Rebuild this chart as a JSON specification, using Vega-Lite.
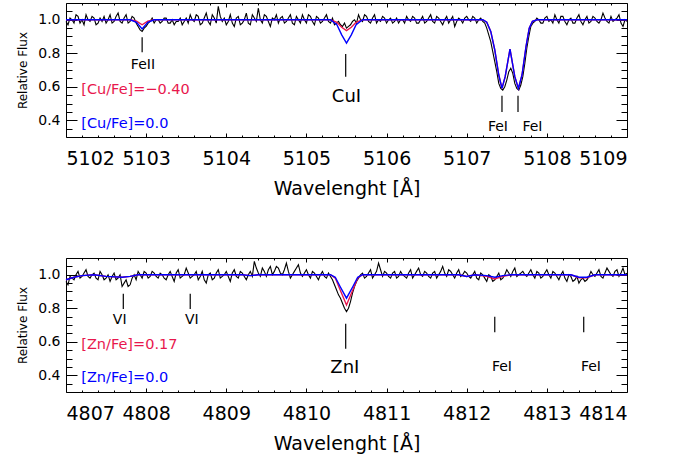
{
  "$schema": "https://vega.github.io/schema/vega-lite/v6.json",
  "background": "white",
  "padding": {"left": 16, "top": 2, "right": 5, "bottom": 5},
  "spacing": 58,
  "config": {
    "view": {"stroke": "black", "strokeWidth": 1},
    "font": "DejaVu Sans",
    "axis": {"domain": false, "grid": false, "tickColor": "black", "tickWidth": 1, "labelColor": "black", "titleColor": "black", "labelFont": "DejaVu Sans", "titleFont": "DejaVu Sans", "titleFontWeight": "normal"}
  },
  "datasets": {
    "top_obs": [
      {"w":5102.00,"f":0.99},{"w":5102.05,"f":1.01},{"w":5102.10,"f":0.98},{"w":5102.15,"f":1.02},{"w":5102.20,"f":1.00},{"w":5102.25,"f":1.03},{"w":5102.30,"f":0.99},{"w":5102.35,"f":1.01},{"w":5102.40,"f":0.98},{"w":5102.45,"f":0.99},
      {"w":5102.50,"f":0.98},{"w":5102.55,"f":1.03},{"w":5102.60,"f":0.99},{"w":5102.65,"f":1.04},{"w":5102.70,"f":0.98},{"w":5102.75,"f":1.03},{"w":5102.80,"f":0.99},{"w":5102.85,"f":1.01},{"w":5102.90,"f":0.96},{"w":5102.95,"f":0.93},
      {"w":5103.00,"f":0.96},{"w":5103.05,"f":0.99},{"w":5103.10,"f":0.98},{"w":5103.15,"f":1.00},{"w":5103.20,"f":0.99},{"w":5103.25,"f":1.01},{"w":5103.30,"f":0.98},{"w":5103.35,"f":0.97},{"w":5103.40,"f":0.99},{"w":5103.45,"f":0.97},
      {"w":5103.50,"f":1.01},{"w":5103.55,"f":1.03},{"w":5103.60,"f":0.99},{"w":5103.65,"f":1.02},{"w":5103.70,"f":0.98},{"w":5103.75,"f":1.04},{"w":5103.80,"f":0.97},{"w":5103.85,"f":1.01},{"w":5103.90,"f":1.08},{"w":5103.95,"f":0.99},
      {"w":5104.00,"f":0.97},{"w":5104.05,"f":1.03},{"w":5104.10,"f":0.96},{"w":5104.15,"f":1.02},{"w":5104.20,"f":0.98},{"w":5104.25,"f":1.04},{"w":5104.30,"f":0.97},{"w":5104.35,"f":1.01},{"w":5104.40,"f":1.07},{"w":5104.45,"f":0.98},
      {"w":5104.50,"f":1.02},{"w":5104.55,"f":0.96},{"w":5104.60,"f":1.00},{"w":5104.65,"f":0.98},{"w":5104.70,"f":1.02},{"w":5104.75,"f":0.99},{"w":5104.80,"f":1.03},{"w":5104.85,"f":0.97},{"w":5104.90,"f":1.00},{"w":5104.95,"f":1.03},
      {"w":5105.00,"f":0.98},{"w":5105.05,"f":1.02},{"w":5105.10,"f":0.97},{"w":5105.15,"f":1.01},{"w":5105.20,"f":0.99},{"w":5105.25,"f":1.03},{"w":5105.30,"f":0.98},{"w":5105.35,"f":0.97},{"w":5105.40,"f":0.99},{"w":5105.45,"f":0.96},
      {"w":5105.50,"f":0.95},{"w":5105.55,"f":0.97},{"w":5105.60,"f":1.00},{"w":5105.65,"f":1.03},{"w":5105.70,"f":0.99},{"w":5105.75,"f":1.02},{"w":5105.80,"f":0.98},{"w":5105.85,"f":1.03},{"w":5105.90,"f":1.00},{"w":5105.95,"f":1.02},
      {"w":5106.00,"f":0.98},{"w":5106.05,"f":1.01},{"w":5106.10,"f":0.99},{"w":5106.15,"f":0.98},{"w":5106.20,"f":1.00},{"w":5106.25,"f":1.02},{"w":5106.30,"f":0.99},{"w":5106.35,"f":1.01},{"w":5106.40,"f":0.98},{"w":5106.45,"f":1.02},
      {"w":5106.50,"f":0.99},{"w":5106.55,"f":1.03},{"w":5106.60,"f":0.98},{"w":5106.65,"f":1.01},{"w":5106.70,"f":0.97},{"w":5106.75,"f":1.02},{"w":5106.80,"f":1.00},{"w":5106.85,"f":0.96},{"w":5106.90,"f":1.01},{"w":5106.95,"f":0.98},
      {"w":5107.00,"f":1.02},{"w":5107.05,"f":0.99},{"w":5107.10,"f":1.01},{"w":5107.15,"f":1.00},{"w":5107.20,"f":0.99},{"w":5107.25,"f":0.95},{"w":5107.30,"f":0.87},{"w":5107.35,"f":0.75},{"w":5107.40,"f":0.62},{"w":5107.45,"f":0.58},
      {"w":5107.50,"f":0.64},{"w":5107.55,"f":0.71},{"w":5107.60,"f":0.62},{"w":5107.65,"f":0.58},{"w":5107.70,"f":0.66},{"w":5107.75,"f":0.83},{"w":5107.80,"f":0.96},{"w":5107.85,"f":0.99},{"w":5107.90,"f":1.00},{"w":5107.95,"f":0.98},
      {"w":5108.00,"f":1.02},{"w":5108.05,"f":1.00},{"w":5108.10,"f":1.03},{"w":5108.15,"f":0.98},{"w":5108.20,"f":1.02},{"w":5108.25,"f":0.97},{"w":5108.30,"f":1.01},{"w":5108.35,"f":0.98},{"w":5108.40,"f":1.03},{"w":5108.45,"f":0.97},
      {"w":5108.50,"f":1.02},{"w":5108.55,"f":0.99},{"w":5108.60,"f":1.01},{"w":5108.65,"f":0.98},{"w":5108.70,"f":1.04},{"w":5108.75,"f":0.99},{"w":5108.80,"f":1.02},{"w":5108.85,"f":1.00},{"w":5108.90,"f":1.03},{"w":5108.95,"f":0.96},
      {"w":5109.00,"f":0.99},
      {"w":5102.025,"f":0.97},{"w":5102.075,"f":1.00},{"w":5102.125,"f":1.03},{"w":5102.175,"f":0.98},{"w":5102.225,"f":0.97},{"w":5102.275,"f":1.00},{"w":5102.325,"f":1.02},{"w":5102.375,"f":0.97},{"w":5102.425,"f":1.01},{"w":5102.475,"f":1.02},
      {"w":5102.525,"f":1.00},{"w":5102.575,"f":0.98},{"w":5102.625,"f":1.02},{"w":5102.675,"f":0.99},{"w":5102.725,"f":1.01},{"w":5102.775,"f":0.98},{"w":5102.825,"f":1.02},{"w":5102.875,"f":0.98},{"w":5102.925,"f":0.94},{"w":5102.975,"f":0.95},
      {"w":5103.025,"f":0.98},{"w":5103.075,"f":1.01},{"w":5103.125,"f":1.00},{"w":5103.175,"f":0.98},{"w":5103.225,"f":1.01},{"w":5103.275,"f":0.98},{"w":5103.325,"f":1.00},{"w":5103.375,"f":0.99},{"w":5103.425,"f":1.01},{"w":5103.475,"f":0.99},
      {"w":5103.525,"f":0.98},{"w":5103.575,"f":1.00},{"w":5103.625,"f":1.03},{"w":5103.675,"f":0.97},{"w":5103.725,"f":1.01},{"w":5103.775,"f":0.99},{"w":5103.825,"f":1.03},{"w":5103.875,"f":0.98},{"w":5103.925,"f":1.02},{"w":5103.975,"f":1.01},
      {"w":5104.025,"f":0.99},{"w":5104.075,"f":0.98},{"w":5104.125,"f":1.01},{"w":5104.175,"f":0.97},{"w":5104.225,"f":1.00},{"w":5104.275,"f":0.98},{"w":5104.325,"f":1.03},{"w":5104.375,"f":0.99},{"w":5104.425,"f":1.00},{"w":5104.475,"f":1.03},
      {"w":5104.525,"f":0.99},{"w":5104.575,"f":1.01},{"w":5104.625,"f":1.03},{"w":5104.675,"f":1.01},{"w":5104.725,"f":0.98},{"w":5104.775,"f":1.01},{"w":5104.825,"f":0.98},{"w":5104.875,"f":1.02},{"w":5104.925,"f":0.98},{"w":5104.975,"f":1.00},
      {"w":5105.025,"f":1.03},{"w":5105.075,"f":0.99},{"w":5105.125,"f":1.02},{"w":5105.175,"f":0.98},{"w":5105.225,"f":1.01},{"w":5105.275,"f":0.99},{"w":5105.325,"f":1.01},{"w":5105.375,"f":0.98},{"w":5105.425,"f":0.97},{"w":5105.475,"f":0.98},
      {"w":5105.525,"f":0.96},{"w":5105.575,"f":0.99},{"w":5105.625,"f":0.98},{"w":5105.675,"f":1.00},{"w":5105.725,"f":1.03},{"w":5105.775,"f":0.99},{"w":5105.825,"f":1.01},{"w":5105.875,"f":0.98},{"w":5105.925,"f":0.99},{"w":5105.975,"f":1.01},
      {"w":5106.025,"f":1.00},{"w":5106.075,"f":0.98},{"w":5106.125,"f":1.01},{"w":5106.175,"f":1.00},{"w":5106.225,"f":0.98},{"w":5106.275,"f":1.00},{"w":5106.325,"f":1.02},{"w":5106.375,"f":0.98},{"w":5106.425,"f":1.00},{"w":5106.475,"f":0.98},
      {"w":5106.525,"f":1.01},{"w":5106.575,"f":0.99},{"w":5106.625,"f":1.02},{"w":5106.675,"f":0.99},{"w":5106.725,"f":1.00},{"w":5106.775,"f":0.98},{"w":5106.825,"f":1.02},{"w":5106.875,"f":0.99},{"w":5106.925,"f":1.00},{"w":5106.975,"f":1.01},
      {"w":5107.025,"f":1.00},{"w":5107.075,"f":1.02},{"w":5107.125,"f":0.98},{"w":5107.175,"f":1.01},{"w":5107.225,"f":0.98},{"w":5107.275,"f":0.91},{"w":5107.325,"f":0.81},{"w":5107.375,"f":0.69},{"w":5107.425,"f":0.59},{"w":5107.475,"f":0.60},
      {"w":5107.525,"f":0.69},{"w":5107.575,"f":0.68},{"w":5107.625,"f":0.59},{"w":5107.675,"f":0.61},{"w":5107.725,"f":0.74},{"w":5107.775,"f":0.90},{"w":5107.825,"f":0.98},{"w":5107.875,"f":1.01},{"w":5107.925,"f":0.98},{"w":5107.975,"f":1.01},
      {"w":5108.025,"f":0.99},{"w":5108.075,"f":0.98},{"w":5108.125,"f":1.00},{"w":5108.175,"f":1.02},{"w":5108.225,"f":0.99},{"w":5108.275,"f":1.00},{"w":5108.325,"f":0.98},{"w":5108.375,"f":1.01},{"w":5108.425,"f":0.99},{"w":5108.475,"f":1.00},
      {"w":5108.525,"f":0.98},{"w":5108.575,"f":1.02},{"w":5108.625,"f":0.99},{"w":5108.675,"f":1.00},{"w":5108.725,"f":1.01},{"w":5108.775,"f":0.98},{"w":5108.825,"f":0.99},{"w":5108.875,"f":1.01},{"w":5108.925,"f":0.98},{"w":5108.975,"f":1.00}
    ],
    "top_red": [
      {"w":5102.00,"f":1.0},{"w":5102.80,"f":1.0},{"w":5102.88,"f":0.992},{"w":5102.95,"f":0.97},{"w":5103.02,"f":0.992},{"w":5103.10,"f":1.0},
      {"w":5105.30,"f":1.0},{"w":5105.38,"f":0.985},{"w":5105.44,"f":0.955},{"w":5105.50,"f":0.935},{"w":5105.56,"f":0.955},{"w":5105.62,"f":0.985},{"w":5105.70,"f":1.0},
      {"w":5107.20,"f":1.0},{"w":5107.25,"f":0.985},{"w":5107.30,"f":0.93},{"w":5107.35,"f":0.82},{"w":5107.40,"f":0.67},{"w":5107.44,"f":0.59},{"w":5107.48,"f":0.66},{"w":5107.54,"f":0.825},{"w":5107.60,"f":0.66},{"w":5107.645,"f":0.59},{"w":5107.69,"f":0.67},{"w":5107.74,"f":0.84},{"w":5107.78,"f":0.95},{"w":5107.82,"f":0.99},{"w":5107.88,"f":1.0},
      {"w":5109.00,"f":1.0}
    ],
    "top_blue": [
      {"w":5102.00,"f":1.0},{"w":5102.80,"f":1.0},{"w":5102.88,"f":0.985},{"w":5102.95,"f":0.945},{"w":5103.02,"f":0.985},{"w":5103.10,"f":1.0},
      {"w":5105.30,"f":1.0},{"w":5105.38,"f":0.97},{"w":5105.44,"f":0.91},{"w":5105.50,"f":0.86},{"w":5105.56,"f":0.91},{"w":5105.62,"f":0.97},{"w":5105.70,"f":1.0},
      {"w":5107.20,"f":1.0},{"w":5107.25,"f":0.985},{"w":5107.30,"f":0.93},{"w":5107.35,"f":0.82},{"w":5107.40,"f":0.67},{"w":5107.44,"f":0.59},{"w":5107.48,"f":0.66},{"w":5107.54,"f":0.825},{"w":5107.60,"f":0.66},{"w":5107.645,"f":0.59},{"w":5107.69,"f":0.67},{"w":5107.74,"f":0.84},{"w":5107.78,"f":0.95},{"w":5107.82,"f":0.99},{"w":5107.88,"f":1.0},
      {"w":5109.00,"f":1.0}
    ],
    "top_marks": [
      {"w":5102.95,"y1":0.806,"y2":0.896},{"w":5105.49,"y1":0.659,"y2":0.796},{"w":5107.44,"y1":0.45,"y2":0.546},{"w":5107.64,"y1":0.45,"y2":0.546}
    ],
    "top_small": [
      {"w":5102.96,"f":0.73,"t":"FeII"},{"w":5107.39,"f":0.357,"t":"FeI"},{"w":5107.82,"f":0.357,"t":"FeI"}
    ],
    "top_big": [{"w":5105.50,"f":0.536,"t":"CuI"}],
    "top_leg_red": [{"w":5102.19,"f":0.58,"t":"[Cu/Fe]=\u22120.40"}],
    "top_leg_blue": [{"w":5102.19,"f":0.379,"t":"[Cu/Fe]=0.0"}],
    "bot_obs": [
      {"w":4807.00,"f":0.96},{"w":4807.05,"f":0.99},{"w":4807.10,"f":0.97},{"w":4807.15,"f":1.02},{"w":4807.20,"f":0.99},{"w":4807.25,"f":1.03},{"w":4807.30,"f":0.98},{"w":4807.35,"f":1.01},{"w":4807.40,"f":0.97},{"w":4807.45,"f":1.00},
      {"w":4807.50,"f":0.98},{"w":4807.55,"f":0.96},{"w":4807.60,"f":1.01},{"w":4807.65,"f":0.98},{"w":4807.70,"f":0.93},{"w":4807.75,"f":0.97},{"w":4807.80,"f":0.94},{"w":4807.85,"f":1.00},{"w":4807.90,"f":1.02},{"w":4807.95,"f":0.98},
      {"w":4808.00,"f":1.01},{"w":4808.05,"f":0.99},{"w":4808.10,"f":1.01},{"w":4808.15,"f":0.98},{"w":4808.20,"f":1.00},{"w":4808.25,"f":0.97},{"w":4808.30,"f":1.02},{"w":4808.35,"f":0.96},{"w":4808.40,"f":1.03},{"w":4808.45,"f":0.99},
      {"w":4808.50,"f":1.04},{"w":4808.55,"f":0.98},{"w":4808.60,"f":1.00},{"w":4808.65,"f":0.97},{"w":4808.70,"f":1.02},{"w":4808.75,"f":0.95},{"w":4808.80,"f":1.01},{"w":4808.85,"f":0.98},{"w":4808.90,"f":1.03},{"w":4808.95,"f":0.99},
      {"w":4809.00,"f":1.02},{"w":4809.05,"f":0.96},{"w":4809.10,"f":1.03},{"w":4809.15,"f":0.98},{"w":4809.20,"f":1.01},{"w":4809.25,"f":0.97},{"w":4809.30,"f":1.02},{"w":4809.35,"f":1.08},{"w":4809.40,"f":1.01},{"w":4809.45,"f":1.04},
      {"w":4809.50,"f":0.99},{"w":4809.55,"f":1.05},{"w":4809.60,"f":1.02},{"w":4809.65,"f":1.04},{"w":4809.70,"f":1.00},{"w":4809.75,"f":1.07},{"w":4809.80,"f":0.98},{"w":4809.85,"f":1.02},{"w":4809.90,"f":1.06},{"w":4809.95,"f":0.99},
      {"w":4810.00,"f":1.03},{"w":4810.05,"f":0.98},{"w":4810.10,"f":1.01},{"w":4810.15,"f":0.97},{"w":4810.20,"f":1.02},{"w":4810.25,"f":0.98},{"w":4810.30,"f":0.99},{"w":4810.35,"f":0.94},{"w":4810.40,"f":0.88},{"w":4810.45,"f":0.83},
      {"w":4810.50,"f":0.78},{"w":4810.55,"f":0.84},{"w":4810.60,"f":0.93},{"w":4810.65,"f":0.98},{"w":4810.70,"f":1.01},{"w":4810.75,"f":0.99},{"w":4810.80,"f":1.03},{"w":4810.85,"f":1.00},{"w":4810.90,"f":1.07},{"w":4810.95,"f":0.99},
      {"w":4811.00,"f":1.01},{"w":4811.05,"f":0.98},{"w":4811.10,"f":1.02},{"w":4811.15,"f":0.99},{"w":4811.20,"f":1.00},{"w":4811.25,"f":0.98},{"w":4811.30,"f":1.03},{"w":4811.35,"f":1.00},{"w":4811.40,"f":1.04},{"w":4811.45,"f":0.99},
      {"w":4811.50,"f":1.01},{"w":4811.55,"f":0.98},{"w":4811.60,"f":1.02},{"w":4811.65,"f":1.00},{"w":4811.70,"f":1.05},{"w":4811.75,"f":0.99},{"w":4811.80,"f":1.02},{"w":4811.85,"f":0.98},{"w":4811.90,"f":1.03},{"w":4811.95,"f":1.00},
      {"w":4812.00,"f":1.01},{"w":4812.05,"f":0.98},{"w":4812.10,"f":1.02},{"w":4812.15,"f":0.97},{"w":4812.20,"f":1.00},{"w":4812.25,"f":0.96},{"w":4812.30,"f":0.99},{"w":4812.35,"f":0.97},{"w":4812.40,"f":1.01},{"w":4812.45,"f":0.98},
      {"w":4812.50,"f":1.03},{"w":4812.55,"f":0.99},{"w":4812.60,"f":1.04},{"w":4812.65,"f":1.00},{"w":4812.70,"f":1.02},{"w":4812.75,"f":0.99},{"w":4812.80,"f":1.03},{"w":4812.85,"f":0.98},{"w":4812.90,"f":1.01},{"w":4812.95,"f":0.99},
      {"w":4813.00,"f":1.03},{"w":4813.05,"f":0.98},{"w":4813.10,"f":1.01},{"w":4813.15,"f":0.97},{"w":4813.20,"f":1.02},{"w":4813.25,"f":0.96},{"w":4813.30,"f":0.99},{"w":4813.35,"f":0.97},{"w":4813.40,"f":0.95},{"w":4813.45,"f":0.98},
      {"w":4813.50,"f":0.97},{"w":4813.55,"f":1.02},{"w":4813.60,"f":0.99},{"w":4813.65,"f":1.03},{"w":4813.70,"f":0.98},{"w":4813.75,"f":1.04},{"w":4813.80,"f":1.00},{"w":4813.85,"f":1.02},{"w":4813.90,"f":0.99},{"w":4813.95,"f":1.04},
      {"w":4814.00,"f":1.01},
      {"w":4807.025,"f":0.94},{"w":4807.075,"f":0.98},{"w":4807.125,"f":1.00},{"w":4807.175,"f":0.98},{"w":4807.225,"f":1.01},{"w":4807.275,"f":0.99},{"w":4807.325,"f":1.00},{"w":4807.375,"f":0.98},{"w":4807.425,"f":1.02},{"w":4807.475,"f":0.97},
      {"w":4807.525,"f":1.00},{"w":4807.575,"f":0.99},{"w":4807.625,"f":0.97},{"w":4807.675,"f":1.00},{"w":4807.725,"f":0.95},{"w":4807.775,"f":0.93},{"w":4807.825,"f":0.98},{"w":4807.875,"f":0.97},{"w":4807.925,"f":1.00},{"w":4807.975,"f":1.02},
      {"w":4808.025,"f":0.98},{"w":4808.075,"f":1.02},{"w":4808.125,"f":0.99},{"w":4808.175,"f":1.01},{"w":4808.225,"f":0.98},{"w":4808.275,"f":1.00},{"w":4808.325,"f":0.99},{"w":4808.375,"f":1.01},{"w":4808.425,"f":0.98},{"w":4808.475,"f":1.00},
      {"w":4808.525,"f":1.01},{"w":4808.575,"f":0.99},{"w":4808.625,"f":1.02},{"w":4808.675,"f":0.99},{"w":4808.725,"f":0.97},{"w":4808.775,"f":1.00},{"w":4808.825,"f":0.97},{"w":4808.875,"f":1.01},{"w":4808.925,"f":0.98},{"w":4808.975,"f":1.00},
      {"w":4809.025,"f":0.99},{"w":4809.075,"f":1.01},{"w":4809.125,"f":0.99},{"w":4809.175,"f":1.02},{"w":4809.225,"f":0.99},{"w":4809.275,"f":1.00},{"w":4809.325,"f":0.99},{"w":4809.375,"f":1.04},{"w":4809.425,"f":0.99},{"w":4809.475,"f":1.02},
      {"w":4809.525,"f":1.03},{"w":4809.575,"f":1.00},{"w":4809.625,"f":1.05},{"w":4809.675,"f":1.01},{"w":4809.725,"f":1.03},{"w":4809.775,"f":1.02},{"w":4809.825,"f":1.00},{"w":4809.875,"f":1.04},{"w":4809.925,"f":1.01},{"w":4809.975,"f":1.01},
      {"w":4810.025,"f":1.00},{"w":4810.075,"f":1.02},{"w":4810.125,"f":0.99},{"w":4810.175,"f":1.00},{"w":4810.225,"f":0.99},{"w":4810.275,"f":1.01},{"w":4810.325,"f":0.97},{"w":4810.375,"f":0.91},{"w":4810.425,"f":0.86},{"w":4810.475,"f":0.80},
      {"w":4810.525,"f":0.80},{"w":4810.575,"f":0.89},{"w":4810.625,"f":0.96},{"w":4810.675,"f":1.00},{"w":4810.725,"f":0.98},{"w":4810.775,"f":1.01},{"w":4810.825,"f":0.98},{"w":4810.875,"f":1.02},{"w":4810.925,"f":1.03},{"w":4810.975,"f":1.02},
      {"w":4811.025,"f":0.99},{"w":4811.075,"f":1.01},{"w":4811.125,"f":0.98},{"w":4811.175,"f":1.02},{"w":4811.225,"f":0.99},{"w":4811.275,"f":1.01},{"w":4811.325,"f":0.98},{"w":4811.375,"f":1.02},{"w":4811.425,"f":1.00},{"w":4811.475,"f":1.02},
      {"w":4811.525,"f":0.99},{"w":4811.575,"f":1.01},{"w":4811.625,"f":0.98},{"w":4811.675,"f":1.02},{"w":4811.725,"f":1.01},{"w":4811.775,"f":1.03},{"w":4811.825,"f":1.00},{"w":4811.875,"f":1.01},{"w":4811.925,"f":0.99},{"w":4811.975,"f":1.02},
      {"w":4812.025,"f":0.99},{"w":4812.075,"f":1.00},{"w":4812.125,"f":0.98},{"w":4812.175,"f":1.01},{"w":4812.225,"f":0.98},{"w":4812.275,"f":1.00},{"w":4812.325,"f":0.96},{"w":4812.375,"f":0.99},{"w":4812.425,"f":0.97},{"w":4812.475,"f":1.00},
      {"w":4812.525,"f":1.01},{"w":4812.575,"f":1.02},{"w":4812.625,"f":0.99},{"w":4812.675,"f":1.01},{"w":4812.725,"f":1.00},{"w":4812.775,"f":1.01},{"w":4812.825,"f":1.00},{"w":4812.875,"f":1.02},{"w":4812.925,"f":0.98},{"w":4812.975,"f":1.01},
      {"w":4813.025,"f":1.00},{"w":4813.075,"f":1.02},{"w":4813.125,"f":0.99},{"w":4813.175,"f":1.00},{"w":4813.225,"f":0.98},{"w":4813.275,"f":1.00},{"w":4813.325,"f":0.96},{"w":4813.375,"f":0.99},{"w":4813.425,"f":0.97},{"w":4813.475,"f":0.96},
      {"w":4813.525,"f":0.99},{"w":4813.575,"f":1.00},{"w":4813.625,"f":1.01},{"w":4813.675,"f":0.99},{"w":4813.725,"f":1.01},{"w":4813.775,"f":1.02},{"w":4813.825,"f":0.99},{"w":4813.875,"f":1.03},{"w":4813.925,"f":1.01},{"w":4813.975,"f":1.00}
    ],
    "bot_red": [
      {"w":4807.00,"f":0.97},{"w":4807.10,"f":0.985},{"w":4807.20,"f":0.995},{"w":4807.35,"f":1.0},{"w":4807.50,"f":0.99},{"w":4807.70,"f":0.985},{"w":4807.80,"f":0.99},{"w":4807.90,"f":1.0},
      {"w":4809.20,"f":1.0},{"w":4809.30,"f":0.995},{"w":4809.40,"f":1.0},
      {"w":4810.30,"f":1.0},{"w":4810.36,"f":0.98},{"w":4810.42,"f":0.91},{"w":4810.50,"f":0.82},{"w":4810.58,"f":0.91},{"w":4810.64,"f":0.98},{"w":4810.70,"f":1.0},
      {"w":4811.90,"f":1.0},{"w":4812.00,"f":0.99},{"w":4812.10,"f":1.0},{"w":4812.25,"f":0.99},{"w":4812.35,"f":0.975},{"w":4812.45,"f":0.99},{"w":4812.55,"f":1.0},
      {"w":4813.30,"f":1.0},{"w":4813.40,"f":0.982},{"w":4813.50,"f":0.982},{"w":4813.60,"f":1.0},{"w":4814.00,"f":1.0}
    ],
    "bot_blue": [
      {"w":4807.00,"f":0.97},{"w":4807.10,"f":0.985},{"w":4807.20,"f":0.995},{"w":4807.35,"f":1.0},{"w":4807.50,"f":0.99},{"w":4807.70,"f":0.985},{"w":4807.80,"f":0.99},{"w":4807.90,"f":1.0},
      {"w":4809.20,"f":1.0},{"w":4809.30,"f":0.995},{"w":4809.40,"f":1.0},
      {"w":4810.30,"f":1.0},{"w":4810.36,"f":0.985},{"w":4810.42,"f":0.93},{"w":4810.50,"f":0.86},{"w":4810.58,"f":0.93},{"w":4810.64,"f":0.985},{"w":4810.70,"f":1.0},
      {"w":4811.90,"f":1.0},{"w":4812.00,"f":0.99},{"w":4812.10,"f":1.0},{"w":4812.25,"f":0.995},{"w":4812.35,"f":0.985},{"w":4812.45,"f":0.995},{"w":4812.55,"f":1.0},
      {"w":4813.30,"f":1.0},{"w":4813.40,"f":0.985},{"w":4813.50,"f":0.985},{"w":4813.60,"f":1.0},{"w":4814.00,"f":1.0}
    ],
    "bot_marks": [
      {"w":4807.715,"y1":0.796,"y2":0.886},{"w":4808.55,"y1":0.796,"y2":0.886},{"w":4810.49,"y1":0.558,"y2":0.707},{"w":4812.35,"y1":0.657,"y2":0.75},{"w":4813.46,"y1":0.657,"y2":0.75}
    ],
    "bot_small": [
      {"w":4807.67,"f":0.732,"t":"VI"},{"w":4808.57,"f":0.732,"t":"VI"},{"w":4812.44,"f":0.448,"t":"FeI"},{"w":4813.55,"f":0.448,"t":"FeI"}
    ],
    "bot_big": [{"w":4810.48,"f":0.442,"t":"ZnI"}],
    "bot_leg_red": [{"w":4807.19,"f":0.582,"t":"[Zn/Fe]=0.17"}],
    "bot_leg_blue": [{"w":4807.19,"f":0.383,"t":"[Zn/Fe]=0.0"}]
  },
  "vconcat": [
    {
      "width": 561,
      "height": 134,
      "resolve": {"axis": {"x": "independent", "y": "independent"}},
      "layer": [
        {
          "data": {"name": "top_obs"},
          "mark": {"type": "line", "color": "black", "strokeWidth": 1.1},
          "encoding": {
            "x": {"field": "w", "type": "quantitative", "scale": {"domain": [5102, 5109], "nice": false, "zero": false},
              "axis": {"orient": "bottom", "values": [5102, 5103, 5104, 5105, 5106, 5107, 5108, 5109], "format": "d", "tickSize": -4, "labelPadding": 16, "labelFontSize": 19, "title": "Wavelenght [Å]", "titleFontSize": 19, "titlePadding": 11}},
            "y": {"field": "f", "type": "quantitative", "scale": {"domain": [0.3, 1.1], "nice": false, "zero": false},
              "axis": {"orient": "left", "values": [0.4, 0.6, 0.8, 1.0], "format": ".1f", "tickSize": -11, "labelPadding": 17, "labelFontSize": 14, "title": "Relative Flux", "titleFontSize": 12, "titlePadding": 8}}
          }
        },
        {
          "data": {"name": "top_red"},
          "mark": {"type": "line", "color": "#e8174d", "strokeWidth": 1.4},
          "encoding": {
            "x": {"field": "w", "type": "quantitative", "scale": {"domain": [5102, 5109], "nice": false, "zero": false},
              "axis": {"orient": "bottom", "values": [5102.2, 5102.4, 5102.6, 5102.8, 5103.2, 5103.4, 5103.6, 5103.8, 5104.2, 5104.4, 5104.6, 5104.8, 5105.2, 5105.4, 5105.6, 5105.8, 5106.2, 5106.4, 5106.6, 5106.8, 5107.2, 5107.4, 5107.6, 5107.8, 5108.2, 5108.4, 5108.6, 5108.8], "labels": false, "title": null, "tickSize": -2}},
            "y": {"field": "f", "type": "quantitative", "scale": {"domain": [0.3, 1.1], "nice": false, "zero": false},
              "axis": {"orient": "left", "values": [0.35, 0.45, 0.5, 0.55, 0.65, 0.7, 0.75, 0.85, 0.9, 0.95, 1.05], "labels": false, "title": null, "tickSize": -6}}
          }
        },
        {
          "data": {"name": "top_blue"},
          "mark": {"type": "line", "color": "#0000ff", "strokeWidth": 1.4},
          "encoding": {
            "x": {"field": "w", "type": "quantitative", "scale": {"domain": [5102, 5109], "nice": false, "zero": false},
              "axis": {"orient": "top", "values": [5102, 5103, 5104, 5105, 5106, 5107, 5108, 5109], "labels": false, "title": null, "tickSize": -4}},
            "y": {"field": "f", "type": "quantitative", "scale": {"domain": [0.3, 1.1], "nice": false, "zero": false},
              "axis": {"orient": "right", "values": [0.4, 0.6, 0.8, 1.0], "labels": false, "title": null, "tickSize": -11}}
          }
        },
        {
          "data": {"name": "top_marks"},
          "mark": {"type": "rule", "color": "black", "strokeWidth": 1.2},
          "encoding": {
            "x": {"field": "w", "type": "quantitative", "scale": {"domain": [5102, 5109], "nice": false, "zero": false},
              "axis": {"orient": "top", "values": [5102.2, 5102.4, 5102.6, 5102.8, 5103.2, 5103.4, 5103.6, 5103.8, 5104.2, 5104.4, 5104.6, 5104.8, 5105.2, 5105.4, 5105.6, 5105.8, 5106.2, 5106.4, 5106.6, 5106.8, 5107.2, 5107.4, 5107.6, 5107.8, 5108.2, 5108.4, 5108.6, 5108.8], "labels": false, "title": null, "tickSize": -2}},
            "y": {"field": "y1", "type": "quantitative", "scale": {"domain": [0.3, 1.1], "nice": false, "zero": false},
              "axis": {"orient": "right", "values": [0.35, 0.45, 0.5, 0.55, 0.65, 0.7, 0.75, 0.85, 0.9, 0.95, 1.05], "labels": false, "title": null, "tickSize": -6}},
            "y2": {"field": "y2"}
          }
        },
        {
          "data": {"name": "top_small"},
          "mark": {"type": "text", "color": "black", "fontSize": 14, "align": "center", "baseline": "middle"},
          "encoding": {
            "x": {"field": "w", "type": "quantitative", "axis": null},
            "y": {"field": "f", "type": "quantitative", "axis": null},
            "text": {"field": "t"}
          }
        },
        {
          "data": {"name": "top_big"},
          "mark": {"type": "text", "color": "black", "fontSize": 18, "align": "center", "baseline": "middle"},
          "encoding": {
            "x": {"field": "w", "type": "quantitative", "axis": null},
            "y": {"field": "f", "type": "quantitative", "axis": null},
            "text": {"field": "t"}
          }
        },
        {
          "data": {"name": "top_leg_red"},
          "mark": {"type": "text", "color": "#e8174d", "fontSize": 14.5, "align": "left", "baseline": "middle"},
          "encoding": {
            "x": {"field": "w", "type": "quantitative", "axis": null},
            "y": {"field": "f", "type": "quantitative", "axis": null},
            "text": {"field": "t"}
          }
        },
        {
          "data": {"name": "top_leg_blue"},
          "mark": {"type": "text", "color": "#0000ff", "fontSize": 14.5, "align": "left", "baseline": "middle"},
          "encoding": {
            "x": {"field": "w", "type": "quantitative", "axis": null},
            "y": {"field": "f", "type": "quantitative", "axis": null},
            "text": {"field": "t"}
          }
        }
      ]
    },
    {
      "width": 561,
      "height": 134,
      "resolve": {"axis": {"x": "independent", "y": "independent"}},
      "layer": [
        {
          "data": {"name": "bot_obs"},
          "mark": {"type": "line", "color": "black", "strokeWidth": 1.1},
          "encoding": {
            "x": {"field": "w", "type": "quantitative", "scale": {"domain": [4807, 4814], "nice": false, "zero": false},
              "axis": {"orient": "bottom", "values": [4807, 4808, 4809, 4810, 4811, 4812, 4813, 4814], "format": "d", "tickSize": -4, "labelPadding": 16, "labelFontSize": 19, "title": "Wavelenght [Å]", "titleFontSize": 19, "titlePadding": 11}},
            "y": {"field": "f", "type": "quantitative", "scale": {"domain": [0.3, 1.1], "nice": false, "zero": false},
              "axis": {"orient": "left", "values": [0.4, 0.6, 0.8, 1.0], "format": ".1f", "tickSize": -11, "labelPadding": 17, "labelFontSize": 14, "title": "Relative Flux", "titleFontSize": 12, "titlePadding": 8}}
          }
        },
        {
          "data": {"name": "bot_red"},
          "mark": {"type": "line", "color": "#e8174d", "strokeWidth": 1.4},
          "encoding": {
            "x": {"field": "w", "type": "quantitative", "scale": {"domain": [4807, 4814], "nice": false, "zero": false},
              "axis": {"orient": "bottom", "values": [4807.2, 4807.4, 4807.6, 4807.8, 4808.2, 4808.4, 4808.6, 4808.8, 4809.2, 4809.4, 4809.6, 4809.8, 4810.2, 4810.4, 4810.6, 4810.8, 4811.2, 4811.4, 4811.6, 4811.8, 4812.2, 4812.4, 4812.6, 4812.8, 4813.2, 4813.4, 4813.6, 4813.8], "labels": false, "title": null, "tickSize": -2}},
            "y": {"field": "f", "type": "quantitative", "scale": {"domain": [0.3, 1.1], "nice": false, "zero": false},
              "axis": {"orient": "left", "values": [0.35, 0.45, 0.5, 0.55, 0.65, 0.7, 0.75, 0.85, 0.9, 0.95, 1.05], "labels": false, "title": null, "tickSize": -6}}
          }
        },
        {
          "data": {"name": "bot_blue"},
          "mark": {"type": "line", "color": "#0000ff", "strokeWidth": 1.4},
          "encoding": {
            "x": {"field": "w", "type": "quantitative", "scale": {"domain": [4807, 4814], "nice": false, "zero": false},
              "axis": {"orient": "top", "values": [4807, 4808, 4809, 4810, 4811, 4812, 4813, 4814], "labels": false, "title": null, "tickSize": -4}},
            "y": {"field": "f", "type": "quantitative", "scale": {"domain": [0.3, 1.1], "nice": false, "zero": false},
              "axis": {"orient": "right", "values": [0.4, 0.6, 0.8, 1.0], "labels": false, "title": null, "tickSize": -11}}
          }
        },
        {
          "data": {"name": "bot_marks"},
          "mark": {"type": "rule", "color": "black", "strokeWidth": 1.2},
          "encoding": {
            "x": {"field": "w", "type": "quantitative", "scale": {"domain": [4807, 4814], "nice": false, "zero": false},
              "axis": {"orient": "top", "values": [4807.2, 4807.4, 4807.6, 4807.8, 4808.2, 4808.4, 4808.6, 4808.8, 4809.2, 4809.4, 4809.6, 4809.8, 4810.2, 4810.4, 4810.6, 4810.8, 4811.2, 4811.4, 4811.6, 4811.8, 4812.2, 4812.4, 4812.6, 4812.8, 4813.2, 4813.4, 4813.6, 4813.8], "labels": false, "title": null, "tickSize": -2}},
            "y": {"field": "y1", "type": "quantitative", "scale": {"domain": [0.3, 1.1], "nice": false, "zero": false},
              "axis": {"orient": "right", "values": [0.35, 0.45, 0.5, 0.55, 0.65, 0.7, 0.75, 0.85, 0.9, 0.95, 1.05], "labels": false, "title": null, "tickSize": -6}},
            "y2": {"field": "y2"}
          }
        },
        {
          "data": {"name": "bot_small"},
          "mark": {"type": "text", "color": "black", "fontSize": 14, "align": "center", "baseline": "middle"},
          "encoding": {
            "x": {"field": "w", "type": "quantitative", "axis": null},
            "y": {"field": "f", "type": "quantitative", "axis": null},
            "text": {"field": "t"}
          }
        },
        {
          "data": {"name": "bot_big"},
          "mark": {"type": "text", "color": "black", "fontSize": 18, "align": "center", "baseline": "middle"},
          "encoding": {
            "x": {"field": "w", "type": "quantitative", "axis": null},
            "y": {"field": "f", "type": "quantitative", "axis": null},
            "text": {"field": "t"}
          }
        },
        {
          "data": {"name": "bot_leg_red"},
          "mark": {"type": "text", "color": "#e8174d", "fontSize": 14.5, "align": "left", "baseline": "middle"},
          "encoding": {
            "x": {"field": "w", "type": "quantitative", "axis": null},
            "y": {"field": "f", "type": "quantitative", "axis": null},
            "text": {"field": "t"}
          }
        },
        {
          "data": {"name": "bot_leg_blue"},
          "mark": {"type": "text", "color": "#0000ff", "fontSize": 14.5, "align": "left", "baseline": "middle"},
          "encoding": {
            "x": {"field": "w", "type": "quantitative", "axis": null},
            "y": {"field": "f", "type": "quantitative", "axis": null},
            "text": {"field": "t"}
          }
        }
      ]
    }
  ]
}
